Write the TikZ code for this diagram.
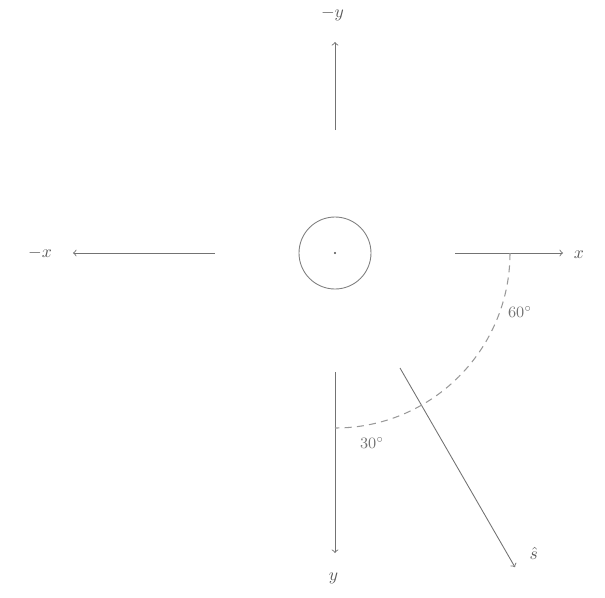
\documentclass[tikz,border=0pt]{standalone}
\usepackage{tikz}
\usetikzlibrary{arrows,positioning,calc}
\tikzset{
  axis/.style={->, >=to, line width=0.5pt, color=black!55},
  body/.style={
    circle, draw=black!50, minimum size=1.44cm,
    inner sep=0pt, line width=0.5pt
  },
  anglearc/.style={dash pattern=on 4pt off 3pt, line width=0.6pt, color=black!40},
  axlabel/.style={font=\normalsize, text=black!65, inner sep=1pt},
  anglabel/.style={font=\small, text=black!55, inner sep=1pt},
}

\begin{document}
\begin{tikzpicture}

  \useasboundingbox (-6.7,-6.88) rectangle (5.4,5.06);

  % Body at the origin
  \node[body] (body) at (0,0) {};
  \fill[black!70] (body.center) circle (0.7pt);

  % Axis ends
  \coordinate (upA) at (0,2.46);
  \coordinate (upB) at (0,4.22);
  \coordinate (leftA) at (-2.4,0);
  \coordinate (leftB) at (-5.24,0);
  \coordinate (rightA) at (2.4,0);
  \coordinate (rightB) at (4.56,0);
  \coordinate (downA) at (0,-2.38);
  \coordinate (downB) at (0,-6.0);

  % Axis labels
  \node[axlabel] (negy) at (-0.05,4.78) {$-y$};
  \node[axlabel] (negx) at (-5.9,0) {$-x$};
  \node[axlabel] (posx) at (4.88,-0.03) {$x$};
  \node[axlabel] (posy) at (-0.03,-6.5) {$y$};

  % Axes
  \draw[axis] (upA) -- (upB);
  \draw[axis] (leftA) -- (leftB);
  \draw[axis] (rightA) -- (rightB);
  \draw[axis] (downA) -- (downB);

  % Direction s
  \coordinate (sA) at (1.3,-2.3);
  \coordinate (sB) at ($(sA)+(-60:4.6)$);
  \draw[axis] (sA) -- (sB);
  \node[axlabel, right=0.25cm of sB, yshift=0.28cm] (dirs) {$\hat{s}$};

  % Angles
  \draw[anglearc] (3.5,0) arc[start angle=0, end angle=-90, radius=3.5];
  \node[anglabel] (ang60) at (3.7,-1.18) {$60^\circ$};
  \node[anglabel] (ang30) at (0.74,-3.8) {$30^\circ$};

\end{tikzpicture}
\end{document}
